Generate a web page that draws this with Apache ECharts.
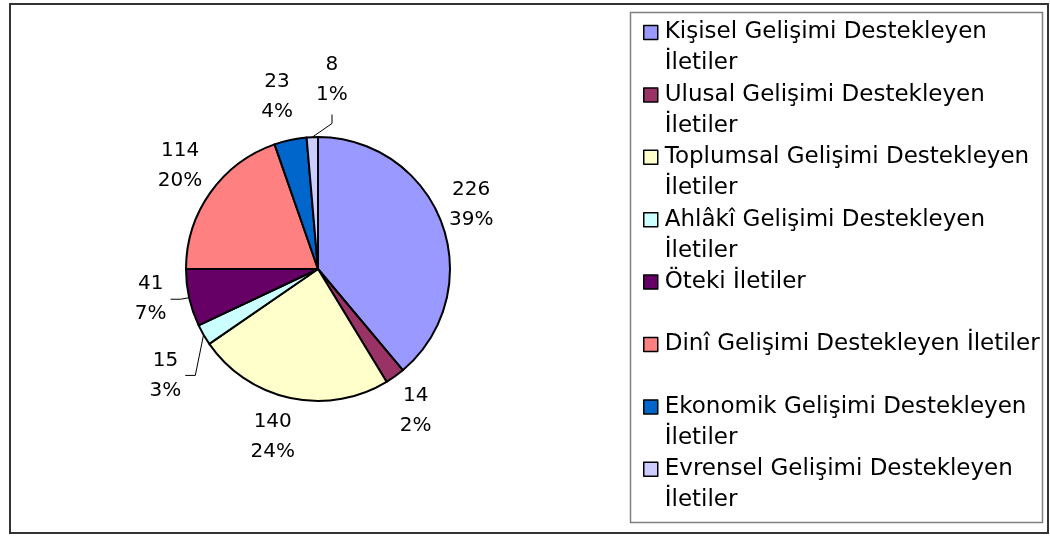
<!DOCTYPE html>
<html>
<head>
<meta charset="utf-8">
<script src="https://cdn.jsdelivr.net/npm/echarts@6/dist/echarts.min.js"></script>
<style>
  html, body { margin: 0; padding: 0; background: #fff; }
  #chart { width: 1050px; height: 536px; }
</style>
</head>
<body>
<div id="chart"></div>
<script>
const categories = [
  "Kişisel Gelişimi Destekleyen İletiler",
  "Ulusal Gelişimi Destekleyen İletiler",
  "Toplumsal Gelişimi Destekleyen İletiler",
  "Ahlâkî Gelişimi Destekleyen İletiler",
  "Öteki İletiler",
  "Dinî Gelişimi Destekleyen İletiler",
  "Ekonomik Gelişimi Destekleyen İletiler",
  "Evrensel Gelişimi Destekleyen İletiler"
];
const counts = [226, 14, 140, 15, 41, 114, 23, 8];
const sliceColors = ["#9999ff", "#993366", "#ffffcc", "#ccffff", "#660066", "#ff8080", "#0066cc", "#ccccff"];

// legend text, wrapped the way the picture wraps it
const legendLines = [
  ["Kişisel Gelişimi Destekleyen", "İletiler"],
  ["Ulusal Gelişimi Destekleyen", "İletiler"],
  ["Toplumsal Gelişimi Destekleyen", "İletiler"],
  ["Ahlâkî Gelişimi Destekleyen", "İletiler"],
  ["Öteki İletiler", ""],
  ["Dinî Gelişimi Destekleyen İletiler", ""],
  ["Ekonomik Gelişimi Destekleyen", "İletiler"],
  ["Evrensel Gelişimi Destekleyen", "İletiler"]
];

const FONT = "DejaVu Sans";
const CX = 318, CY = 269, R = 132;
const LABEL_DIST = 40;
// hand placement of the labels in the original: [extra angle (deg), extra distance]
const labelNudge = {
  0: [-2.7, -6], 1: [1, 0], 2: [3, 2], 3: [-5, 14],
  4: [2.3, -2], 5: [1.2, 0], 6: [-1.3, 5], 7: [6.7, 18]
};
const withLeader = [3, 4, 7];

const total = counts.reduce((a, b) => a + b, 0);
const midAngles = [];
let acc = 0;
counts.forEach(v => {
  midAngles.push((acc + v / 2) / total * 2 * Math.PI);
  acc += v;
});

const chart = echarts.init(document.getElementById("chart"));

const option = {
  animation: false,
  backgroundColor: "#fff",
  graphic: [
    {
      type: "rect",
      silent: true,
      shape: { x: 10, y: 4, width: 1038, height: 529 },
      style: { fill: "none", stroke: "#333", lineWidth: 2 }
    },
    {
      type: "rect",
      silent: true,
      shape: { x: 630.5, y: 12.5, width: 412, height: 510 },
      style: { fill: "none", stroke: "#808080", lineWidth: 1.5 }
    }
  ],
  legend: {
    orient: "vertical",
    left: 643,
    top: -14,
    height: 600,
    padding: 0,
    align: "left",
    icon: "rect",
    itemWidth: 14,
    itemHeight: 14,
    itemGap: -30.6,
    selectedMode: false,
    itemStyle: { borderColor: "#000", borderWidth: 1.5 },
    // blank first line so the icon sits beside the first text line
    formatter: name => "\u00a0\n" + legendLines[categories.indexOf(name)].join("\n"),
    textStyle: {
      fontFamily: FONT,
      fontSize: 23,
      lineHeight: 31,
      color: "#000",
      padding: [0, 0, 0, 2]
    },
    data: categories
  },
  series: [
    {
      type: "pie",
      center: [CX, CY],
      radius: R,
      startAngle: 90,
      clockwise: true,
      avoidLabelOverlap: false,
      percentPrecision: 0,
      itemStyle: { borderColor: "#000", borderWidth: 2 },
      label: {
        show: true,
        position: "outside",
        formatter: "{c}\n{d}%",
        fontFamily: FONT,
        fontSize: 20,
        lineHeight: 30,
        color: "#000"
      },
      labelLine: { show: false, length: 10, length2: 0, lineStyle: { color: "#000", width: 1 } },
      emphasis: { disabled: true },
      labelLayout: function (p) {
        const i = p.dataIndex;
        const n = labelNudge[i] || [0, 0];
        const a = midAngles[i] + n[0] * Math.PI / 180;
        const d = R + LABEL_DIST + n[1];
        const x = CX + d * Math.sin(a);
        const y = CY - d * Math.cos(a);
        const out = { x: x, y: y, align: "center", verticalAlign: "middle" };
        if (withLeader.indexOf(i) >= 0) {
          const m = midAngles[i];
          const p0 = [CX + R * Math.sin(m), CY - R * Math.cos(m)];
          const hw = p.labelRect.width / 2, hh = p.labelRect.height / 2;
          if (Math.abs(Math.sin(a)) > Math.abs(Math.cos(a))) {
            const s = Math.sign(Math.sin(a));
            const edge = x - s * hw;
            out.labelLinePoints = [p0, [edge - s * 14, y], [edge - s * 4, y]];
          } else {
            const s = -Math.sign(Math.cos(a));
            const edge = y - s * hh;
            out.labelLinePoints = [p0, [x, edge - s * 14], [x, edge - s * 5]];
          }
        }
        return out;
      },
      data: categories.map((name, i) => ({
        name: name,
        value: counts[i],
        itemStyle: { color: sliceColors[i] },
        labelLine: { show: withLeader.indexOf(i) >= 0 }
      }))
    }
  ]
};

chart.setOption(option);
</script>
</body>
</html>
